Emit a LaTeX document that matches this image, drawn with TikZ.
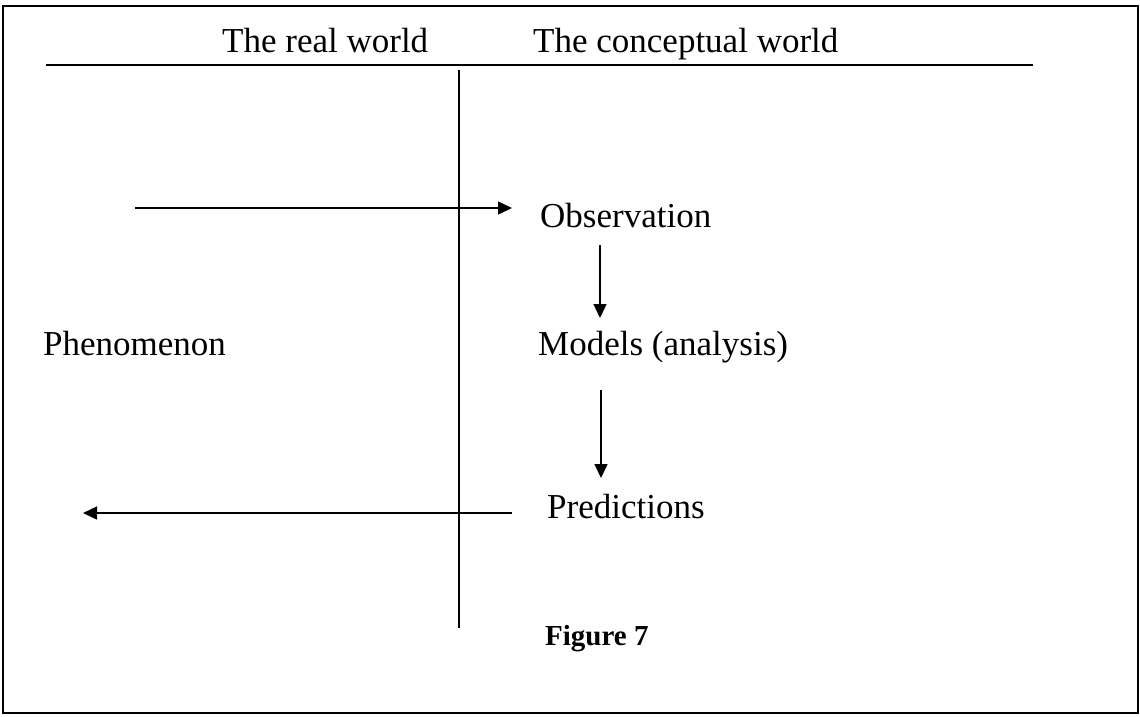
\documentclass[tikz,border=0pt]{standalone}
\usepackage{fontspec}
\setmainfont{Liberation Serif}
\usetikzlibrary{arrows.meta}
\begin{document}
\begin{tikzpicture}[x=1pt,y=-1pt,
  lbl/.style={anchor=base west,inner sep=0pt,font=\fontsize{35}{42}\selectfont},
  figcaption/.style={anchor=base west,inner sep=0pt,font=\fontsize{29}{34}\selectfont\bfseries},
  ln/.style={line width=1.4pt,black},
  arr/.style={line width=1.4pt,black,-{Triangle[length=14pt,width=13pt]}}]
\useasboundingbox (0,0) rectangle (1140,716);
\draw[line width=2pt] (3,6) rectangle (1138,713);
% header
\node[lbl] (real) at (222,52) {The real world};
\node[lbl] (conc) at (533,52) {The conceptual world};
\coordinate (hl) at (46,65);
\coordinate (hr) at (1033,65);
\draw[ln] (hl) -- (hr);
\coordinate (vt) at (459,70);
\coordinate (vb) at (459,628);
\draw[ln] (vt) -- (vb);
% texts
\node[lbl] (obs) at (540,227) {Observation};
\node[lbl] (phen) at (43,355) {Phenomenon};
\node[lbl] (mod) at (538,355) {Models (analysis)};
\node[lbl] (pred) at (547,518) {Predictions};
\node[figcaption] (fig) at (545,645) {Figure 7};
% arrows
\coordinate (a1s) at (135,208);
\coordinate (a1e) at (512,208);
\draw[arr] (a1s) -- (a1e);
\coordinate (a2s) at (600,245);
\coordinate (a2e) at (600,318);
\draw[arr] (a2s) -- (a2e);
\coordinate (a3s) at (601,390);
\coordinate (a3e) at (601,478);
\draw[arr] (a3s) -- (a3e);
\coordinate (a4s) at (512,513);
\coordinate (a4e) at (83,513);
\draw[arr] (a4s) -- (a4e);
\end{tikzpicture}
\end{document}
